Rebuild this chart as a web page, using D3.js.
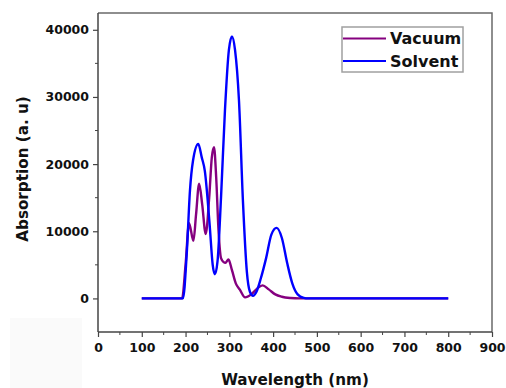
<!DOCTYPE html>
<html>
<head>
<meta charset="utf-8">
<script src="https://cdn.jsdelivr.net/npm/d3@7"></script>
<style>
  html, body { margin: 0; padding: 0; background: #fff; }
  svg { display: block; }
</style>
</head>
<body>
<div id="chart"></div>
<script>
// values: [wavelength nm, absorption]
const vacuum = [
  [100, 0], [192, 0], [200, 5000], [208, 11200], [218, 8600], [224, 12500],
  [231, 17100], [238, 14000], [246, 9600], [254, 15000], [260, 21000], [265, 22500],
  [270, 18000], [275, 10500], [281, 6000], [287, 5400], [291, 5300], [298, 5800],
  [306, 4200], [315, 2200], [324, 1300], [336, 150], [350, 600], [364, 1500],
  [376, 1950], [390, 1350], [405, 600], [420, 250], [440, 60], [460, 0], [800, 0]
];
const solvent = [
  [100, 0], [194, 0], [203, 7000], [210, 16000], [217, 20500], [229, 23000],
  [237, 21000], [244, 19000], [255, 11000], [262, 5000], [267, 3600], [273, 5500],
  [281, 15000], [290, 28000], [299, 37000], [306, 39000], [313, 37000], [322, 29500],
  [331, 14600], [340, 4000], [347, 1000], [354, 400], [362, 1000], [372, 3000],
  [384, 6000], [396, 9500], [408, 10500], [420, 9000], [432, 5300], [444, 2200],
  [456, 600], [470, 80], [480, 0], [800, 0]
];
const seriesNames = ["Vacuum", "Solvent"];
const seriesColors = ["#85007f", "#0000ff"];
const xTicks = d3.range(0, 901, 100);
const xMinor = d3.range(50, 900, 100);
const yTicks = d3.range(0, 40001, 10000);
const yMinor = d3.range(5000, 40000, 10000);

const width = 506, height = 388;
const margin = {top: 13, right: 14, bottom: 56, left: 98};

const svg = d3.select("#chart").append("svg")
    .attr("width", width)
    .attr("height", height)
    .attr("font-family", "'DejaVu Sans', sans-serif")
    .attr("font-weight", "bold");

// faint grey patch in the lower left of the scan
svg.append("rect")
    .attr("x", 10).attr("y", 318).attr("width", 72).attr("height", 70)
    .attr("fill", "#fafafa");

const x = d3.scaleLinear([0, 900], [margin.left, width - margin.right]);
const y = d3.scaleLinear([-5000, 42500], [height - margin.bottom, margin.top]);

// frame (top and right)
svg.append("path")
    .attr("d", `M${x(0)},${y(42500)}H${x(900)}V${y(-5000)}`)
    .attr("fill", "none")
    .attr("stroke", "#6a6a6a")
    .attr("stroke-width", 1.5);

const line = d3.line()
    .x(d => x(d[0]))
    .y(d => y(d[1]))
    .curve(d3.curveMonotoneX);

[vacuum, solvent].forEach((s, i) => {
  svg.append("path")
      .datum(s)
      .attr("fill", "none")
      .attr("stroke", seriesColors[i])
      .attr("stroke-width", 2.4)
      .attr("stroke-linejoin", "round")
      .attr("d", line);
});

// x axis
const xAxis = svg.append("g")
    .attr("transform", `translate(0,${y(-5000)})`)
    .call(d3.axisBottom(x).tickValues(xTicks).tickSize(5).tickPadding(6).tickFormat(d3.format("d")));
xAxis.append("g").selectAll("line")
    .data(xMinor).join("line")
    .attr("x1", d => x(d)).attr("x2", d => x(d))
    .attr("y1", 0).attr("y2", 3)
    .attr("stroke", "#444");

// y axis
const yAxis = svg.append("g")
    .attr("transform", `translate(${x(0)},0)`)
    .call(d3.axisLeft(y).tickValues(yTicks).tickSize(5).tickPadding(4).tickFormat(d3.format("d")));
yAxis.append("g").selectAll("line")
    .data(yMinor).join("line")
    .attr("y1", d => y(d)).attr("y2", d => y(d))
    .attr("x1", 0).attr("x2", -3)
    .attr("stroke", "#444");

[xAxis, yAxis].forEach(a => {
  a.select(".domain").attr("stroke", "#444").attr("stroke-width", 1.5);
  a.selectAll(".tick line").attr("stroke", "#444").attr("stroke-width", 1.2);
  a.selectAll(".tick text")
      .attr("fill", "#111")
      .attr("font-size", 12.5)
      .attr("font-family", "'DejaVu Sans', sans-serif")
      .attr("font-weight", "bold");
});
xAxis.select(".domain").attr("d", `M${x(0)},0H${x(900)}`);
yAxis.select(".domain").attr("d", `M0,${y(-5000)}V${y(42500)}`);

// axis titles
svg.append("text")
    .attr("x", (x(0) + x(900)) / 2)
    .attr("y", 385)
    .attr("text-anchor", "middle")
    .attr("font-size", 15.2)
    .attr("fill", "#111")
    .text("Wavelength (nm)");

svg.append("text")
    .attr("transform", "translate(28,169) rotate(-90)")
    .attr("text-anchor", "middle")
    .attr("font-size", 15.2)
    .attr("fill", "#111")
    .text("Absorption (a. u)");

// legend
const legend = svg.append("g");
legend.append("rect")
    .attr("x", 342).attr("y", 27).attr("width", 121).attr("height", 45)
    .attr("fill", "#fff")
    .attr("stroke", "#a0a0a0")
    .attr("stroke-width", 1.5);
seriesNames.forEach((name, i) => {
  const ly = 38.5 + i * 22.5;
  legend.append("line")
      .attr("x1", 343).attr("x2", 386)
      .attr("y1", ly).attr("y2", ly)
      .attr("stroke", seriesColors[i])
      .attr("stroke-width", 2.2);
  legend.append("text")
      .attr("x", 390).attr("y", ly)
      .attr("dy", "0.36em")
      .attr("font-size", 16)
      .attr("fill", "#111")
      .text(name);
});
</script>
</body>
</html>
